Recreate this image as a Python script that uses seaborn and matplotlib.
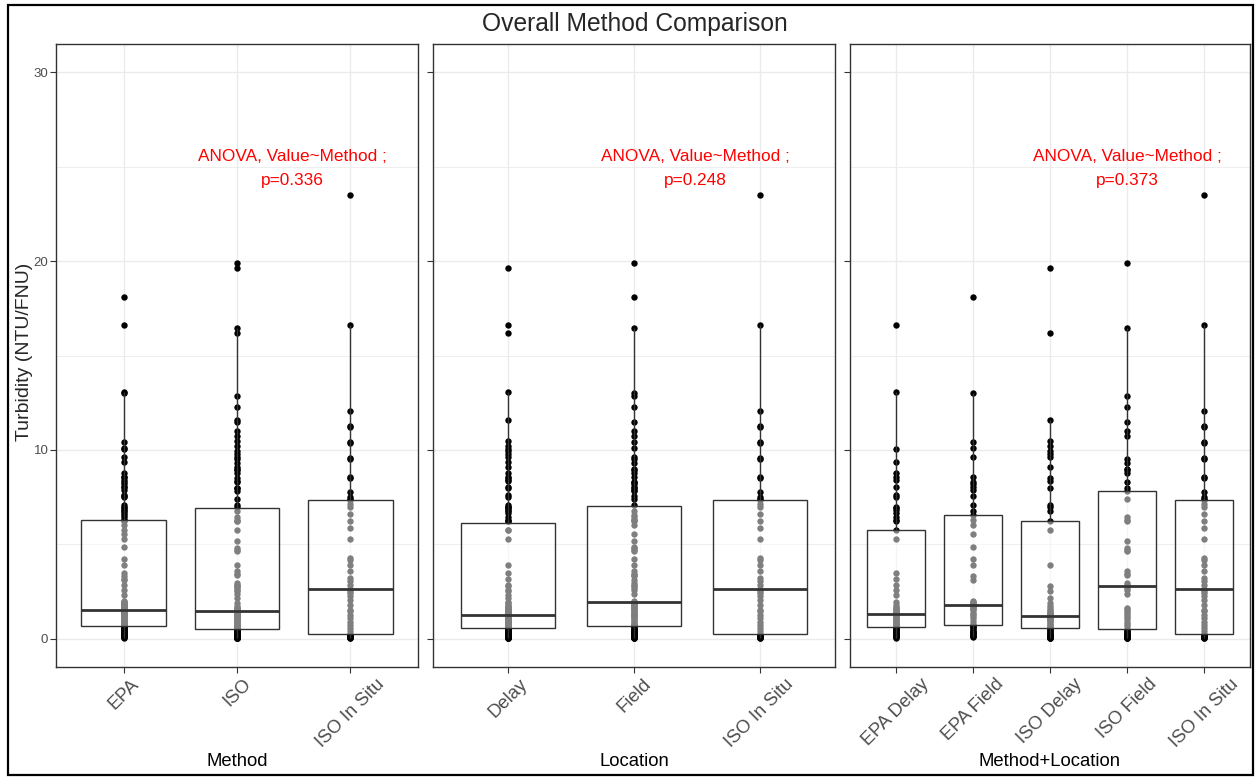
import pandas as pd
import matplotlib
matplotlib.use("Agg")
import matplotlib.pyplot as plt
import seaborn as sns
from matplotlib.patches import Rectangle

# turbidity readings per method + location
epa_delay = [0.05, 0.08, 0.10, 0.12, 0.15, 0.18, 0.20, 0.23, 0.26, 0.30, 0.33, 0.37, 0.41, 0.45, 0.49, 0.53, 0.57,
             0.62,
             0.66, 0.70, 0.75, 0.80, 0.85, 0.90, 0.95, 1.00, 1.05, 1.10, 1.14, 1.18, 1.21, 1.24, 1.27, 1.29,
             1.31,
             1.35, 1.38, 1.42, 1.46, 1.50, 1.55, 1.62, 1.70, 1.80, 1.95, 2.33, 2.59, 2.86, 3.16, 3.47, 5.29,
             5.77,
             6.24, 6.30, 6.47, 6.65, 6.83, 6.90, 7.00, 7.50, 7.62, 8.06, 8.41, 8.59, 8.77, 9.35, 10.03, 13.09, 16.61]
epa_field = [0.10, 0.13, 0.16, 0.20, 0.24, 0.28, 0.32, 0.36, 0.42, 0.48, 0.54, 0.60, 0.66,
             0.71,
             0.80, 0.95, 1.11, 1.20, 1.30, 1.38, 1.50, 1.58, 1.65, 1.70, 1.74, 1.77,
             1.80,
             1.86, 1.90, 1.94, 1.98, 3.12, 3.30, 3.92, 4.22, 4.83, 5.54, 6.03, 6.30,
             6.54,
             6.77, 7.09, 7.57, 7.88, 8.06, 8.20, 8.30, 8.59, 9.61, 10.12, 10.41, 13.00, 18.11]
iso_delay = [0.02, 0.04, 0.06, 0.08, 0.10, 0.12, 0.15, 0.18, 0.21, 0.25, 0.29, 0.34, 0.40, 0.45, 0.51,
             0.56,
             0.62, 0.68, 0.74, 0.80, 0.86, 0.92, 0.98, 1.03, 1.07, 1.11, 1.14, 1.17, 1.19, 1.21,
             1.22,
             1.26, 1.30, 1.34, 1.38, 1.44, 1.50, 1.60, 1.71, 1.90, 2.15, 2.50, 2.77, 3.92, 5.77,
             6.26,
             6.77, 6.95, 7.09, 7.97, 8.36, 8.50, 9.07, 9.65, 9.80, 9.95, 10.18, 10.48, 11.59, 16.17, 19.61]
iso_field = [0.02, 0.04, 0.06, 0.08, 0.10, 0.13, 0.16, 0.19, 0.23, 0.27, 0.31, 0.36, 0.41, 0.46,
             0.51,
             0.65, 0.78, 0.90, 1.02, 1.14, 1.25, 1.35, 1.45, 1.55, 1.62, 2.36, 2.59, 2.70,
             2.77,
             2.85, 2.95, 3.39, 3.45, 3.56, 4.62, 4.70, 4.80, 5.15, 6.21, 6.30, 6.47, 7.39,
             7.83,
             7.97, 8.32, 8.77, 8.91, 9.00, 9.29, 9.51, 10.76, 11.02, 11.48, 12.28, 12.87, 16.47, 19.88]
iso_insitu = [0.05, 0.06, 0.08, 0.09, 0.10, 0.10, 0.11, 0.12, 0.13, 0.14, 0.15, 0.17, 0.19, 0.22,
              0.25,
              0.39, 0.56, 0.74, 0.90, 1.09, 1.25, 1.44, 1.53, 1.80, 2.06, 2.24, 2.40, 2.50,
              2.63,
              2.86, 3.03, 3.21, 3.56, 3.90, 4.18, 4.27, 5.29, 5.86, 6.21, 6.60, 7.00, 7.15,
              7.32,
              7.39, 7.53, 7.76, 8.50, 8.59, 9.51, 9.59, 10.35, 10.44, 11.20, 11.27, 12.06, 16.61, 23.49]

method_order = ["EPA", "ISO", "ISO In Situ"]
location_order = ["Delay", "Field", "ISO In Situ"]
combo_order = ["EPA Delay", "EPA Field", "ISO Delay", "ISO Field", "ISO In Situ"]
p_values = ["0.336", "0.248", "0.373"]
label_x = [1.49, 1.49, 3.0]
label_y = 24.9

groups = [
    ("EPA", "Delay", "EPA Delay", epa_delay),
    ("EPA", "Field", "EPA Field", epa_field),
    ("ISO", "Delay", "ISO Delay", iso_delay),
    ("ISO", "Field", "ISO Field", iso_field),
    ("ISO In Situ", "ISO In Situ", "ISO In Situ", iso_insitu),
]
rows = []
for m, loc, combo, vals in groups:
    for v in vals:
        rows.append({"Value": v, "Method": m, "Location": loc, "Method+Location": combo})
df = pd.DataFrame(rows)

sns.set_style("ticks")
plt.rcParams["font.family"] = ["Liberation Sans", "DejaVu Sans"]

W, H = 1255, 778
fig = plt.figure(figsize=(W / 100, H / 100), dpi=100)

# (column, order, left px, width px)
panels = [
    ("Method", method_order, 56, 362),
    ("Location", location_order, 433, 402),
    ("Method+Location", combo_order, 850, 400),
]
top_px, bot_px = 44, 667

for i, (col, order, left, width) in enumerate(panels):
    ax = fig.add_axes([left / W, (H - bot_px) / H, width / W, (bot_px - top_px) / H])
    sns.stripplot(data=df, x=col, y="Value", order=order, jitter=False,
                  color="black", size=4.6, ax=ax, zorder=2)
    sns.boxplot(data=df, x=col, y="Value", order=order, width=0.75,
                showfliers=False, showcaps=False, color="white",
                linecolor="#333333", linewidth=1.0, ax=ax,
                medianprops=dict(linewidth=2.0))
    for p in ax.patches:
        p.set_facecolor((1, 1, 1, 0.5))
        p.set_zorder(3)
    for ln in ax.lines:
        ln.set_zorder(4)

    ax.set_xlim(-0.6, len(order) - 0.4)
    ax.set_ylim(-1.5, 31.5)
    ax.set_yticks([0, 10, 20, 30])
    ax.set_yticks([5, 15, 25], minor=True)
    ax.grid(True, which="major", color="#ebebeb", linewidth=1.0)
    ax.grid(True, which="minor", axis="y", color="#ebebeb", linewidth=0.6)
    ax.set_axisbelow(True)
    for s in ax.spines.values():
        s.set_visible(True)
        s.set_color("#333333")
        s.set_linewidth(1.0)
    ax.tick_params(axis="both", which="major", direction="out", length=4.5, width=0.8,
                   color="#333333", labelcolor="#4d4d4d")
    ax.tick_params(axis="y", which="minor", length=0)
    ax.tick_params(axis="y", labelsize=9.5, pad=1)
    ax.tick_params(axis="x", labelsize=13.3, pad=1.5)
    for lbl in ax.get_xticklabels():
        lbl.set_rotation(45)
        lbl.set_ha("center")
        lbl.set_va("top")
    if i > 0:
        ax.set_yticklabels([])
    ax.set_ylabel("")
    ax.set_xlabel("")

    ax.text(label_x[i], label_y, "ANOVA, Value~Method ;\np=" + p_values[i],
            color="red", fontsize=12.4, ha="center", va="center", linespacing=1.75)
    fig.text((left + width / 2) / W, 1 - 761 / H, col, fontsize=13.3,
             ha="center", va="center", color="black")

fig.text(634.5 / W, 1 - 24 / H, "Overall Method Comparison", fontsize=17.7,
         ha="center", va="center")
fig.text(25 / W, 1 - 352 / H, "Turbidity (NTU/FNU)", fontsize=14, rotation=90,
         ha="center", va="center")

fig.add_artist(Rectangle((8 / W, 3 / H), 1245 / W, 770 / H, transform=fig.transFigure,
                         fill=False, edgecolor="black", linewidth=1.6))

fig.savefig("out.png", dpi=100)
